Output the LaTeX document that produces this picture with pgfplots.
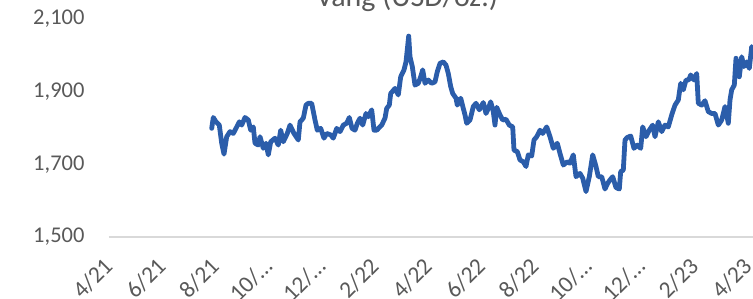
\documentclass[border=0pt]{standalone}
\usepackage{pgfplots}
\pgfplotsset{compat=1.18}
\usepackage{fontspec}
\setmainfont{Carlito}
\definecolor{goldline}{RGB}{43,93,170}
\definecolor{txtgray}{RGB}{89,89,89}
\definecolor{axgray}{RGB}{217,217,217}
\begin{document}
\begin{tikzpicture}
\useasboundingbox (0,0) rectangle (753pt,299pt);
\clip (0,0) rectangle (753pt,299pt);
\node[anchor=base, text=txtgray, font=\fontsize{30}{36}\selectfont] at (407pt,292pt) {Vàng (USD/oz.)};
\begin{axis}[
  at={(109pt,62pt)}, anchor=south west,
  scale only axis, width=644pt, height=218pt,
  xmin=109, xmax=753, ymin=1500, ymax=2100,
  axis x line*=bottom, axis y line*=left,
  x axis line style={axgray, line width=1.5pt},
  y axis line style={draw=none},
  major tick length=0pt,
  ytick={1500,1700,1900,2100},
  yticklabels={{1,500},{1,700},{1,900},{2,100}},
  xtick={111,164.25,217.5,270.75,324,377.25,430.5,483.75,537,590.25,643.5,696.75,750},
  xticklabels={4/21,6/21,8/21,{10/…},{12/…},2/22,4/22,6/22,8/22,{10/…},{12/…},2/23,4/23},
  tick label style={text=txtgray, font=\fontsize{22.5}{27}\selectfont},
  xticklabel style={yshift=-23pt, rotate=45, anchor=east, font=\fontsize{23.5}{28}\selectfont},
  yticklabel style={xshift=-21pt},
  clip=true,
]
\addplot[goldline, line width=4.8pt, line join=round, line cap=round] coordinates {
(211.7,1799)(213.3,1829)(216,1817)(219.3,1808)(221.7,1758)(224,1728)(226.7,1776)(230,1790)
(233.3,1785)(236,1799)(239.3,1817)(241.7,1808)(245,1829)(248.3,1822)(250.7,1794)(253.3,1803)
(255,1758)(258.3,1753)(260,1776)(263.3,1744)(266,1758)(268.3,1726)(270.7,1762)(275,1772)
(278.3,1753)(280.7,1794)(283.3,1762)(287.3,1785)(290,1808)(294,1785)(298.3,1767)(300,1817)
(303.3,1827)(306,1863)(308.3,1868)(311.7,1868)(315,1822)(317.3,1794)(320.7,1799)(324,1772)
(326.7,1785)(330.7,1781)(333.3,1772)(336.7,1799)(340,1790)(343.3,1808)(346.7,1813)(349.3,1829)
(352,1799)(355,1794)(357.3,1813)(360,1827)(362.7,1808)(366,1840)(368.3,1831)(371.7,1850)
(374,1794)(376.7,1794)(381.7,1808)(385,1827)(386.7,1854)(389.3,1863)(390.7,1895)(395,1909)
(398.3,1891)(400.7,1941)(404,1960)(406,1982)(408.7,2053)(410,1996)(412.3,1969)(415,1918)
(418.3,1923)(420.7,1941)(422.7,1960)(425,1923)(428.3,1932)(431.7,1923)(435,1927)(437.3,1955)
(440,1978)(443.3,1982)(446,1973)(448.3,1950)(450.7,1914)(452.7,1895)(456,1882)(457.3,1863)
(460.7,1882)(463.3,1854)(465,1836)(466.7,1813)(470,1822)(473.3,1859)(476,1868)(479.3,1850)
(483.3,1870)(486,1840)(488.3,1854)(490.7,1872)(493.3,1845)(495,1808)(496.7,1857)(500,1836)
(502.7,1822)(506,1824)(509.3,1808)(512.7,1803)(514,1739)(517.3,1735)(520,1712)(523.3,1707)
(526,1694)(528.3,1726)(531.7,1723)(534,1767)(536.7,1776)(540,1794)(542.7,1785)(546.7,1803)
(550,1776)(553.3,1744)(557.3,1758)(560,1730)(563.3,1698)(567.3,1707)(570,1703)(573.3,1726)
(576,1666)(580,1675)(582.7,1662)(586,1625)(589.3,1666)(592.7,1726)(596,1694)(598.3,1666)
(601.7,1666)(605,1632)(607.7,1648)(610,1657)(612.7,1666)(616,1636)(619.3,1632)(620.7,1680)
(623.3,1684)(625,1767)(627.3,1774)(630.7,1778)(634,1744)(637.3,1753)(640.7,1744)(642.7,1803)
(646,1776)(649.3,1794)(652.7,1808)(655,1776)(658.3,1817)(661.7,1790)(665,1808)(668.3,1803)
(671.7,1836)(675,1863)(678.3,1877)(680.7,1923)(683.3,1905)(686,1932)(688.7,1932)(690.7,1946)
(694,1932)(696.7,1950)(698.3,1868)(701.7,1863)(705,1875)(708.3,1845)(711.7,1840)(715,1840)
(718.3,1808)(721.7,1822)(725,1859)(728.3,1813)(730,1877)(731.7,1905)(734.3,1918)(736,1992)
(739.3,1941)(741.7,1996)(744,1969)(746.7,1982)(749.3,1964)(751.7,2024)(753,2015)
};
\end{axis}
\end{tikzpicture}
\end{document}
